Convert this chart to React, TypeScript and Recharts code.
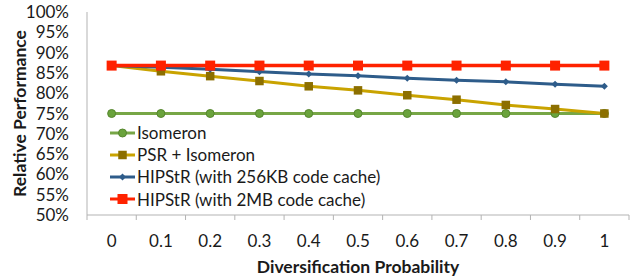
import React from 'react'
import { LineChart, Line, XAxis, YAxis, Legend, Label } from 'recharts'

// diversification probability (x categories)
const probs = [0, 0.1, 0.2, 0.3, 0.4, 0.5, 0.6, 0.7, 0.8, 0.9, 1]
// relative performance, in %
const isomeron = [75, 75, 75, 75, 75, 75, 75, 75, 75, 75, 75]
const psrIsomeron = [86.8, 85.4, 84.2, 83.0, 81.7, 80.7, 79.5, 78.4, 77.1, 76.1, 75.0]
const hip256 = [86.8, 86.4, 85.9, 85.3, 84.7, 84.3, 83.7, 83.2, 82.8, 82.2, 81.7]
const hip2mb = [86.8, 86.8, 86.8, 86.8, 86.8, 86.8, 86.8, 86.8, 86.8, 86.8, 86.8]
const yTicks = [50, 55, 60, 65, 70, 75, 80, 85, 90, 95, 100]

const data = probs.map((p, i) => ({
  p,
  iso: isomeron[i],
  psr: psrIsomeron[i],
  h256: hip256[i],
  h2mb: hip2mb[i],
}))

const W = 640
const H = 279
const Y_W = 87
const M_R = 11
const half = (W - Y_W - M_R) / probs.length / 2
const gray = '#b3b3b3'
const ink = '#1a1a1a'
const font = 'Lato, "Open Sans", sans-serif'

const circleDot = (r: number, fill: string, stroke: string) => (p: any) =>
  <circle key={p.index} cx={p.cx} cy={p.cy} r={r} fill={fill} stroke={stroke} strokeWidth={1} />
const squareDot = (s: number, fill: string) => (p: any) =>
  <rect key={p.index} x={p.cx - s / 2} y={p.cy - s / 2} width={s} height={s} fill={fill} />
const diamondDot = (s: number, fill: string) => (p: any) =>
  <path key={p.index} d={`M${p.cx},${p.cy - s / 2}L${p.cx + s / 2},${p.cy}L${p.cx},${p.cy + s / 2}L${p.cx - s / 2},${p.cy}Z`} fill={fill} />

const series = [
  { key: 'iso', name: 'Isomeron', color: '#77a646', width: 3, dot: circleDot(4, '#6aa33c', '#55862d') },
  { key: 'psr', name: 'PSR + Isomeron', color: '#c9a300', width: 3, dot: squareDot(8.5, '#8c6f00') },
  { key: 'h256', name: 'HIPStR (with 256KB code cache)', color: '#2e5c8a', width: 3, dot: diamondDot(7, '#2e5c8a') },
  { key: 'h2mb', name: 'HIPStR (with 2MB code cache)', color: '#ff2200', width: 3.5, dot: squareDot(10, '#ff2200') },
]

function XTick(props: any) {
  const { x, y, payload } = props
  const last = payload.value === probs[probs.length - 1]
  return (
    <g>
      <line x1={x - half} x2={x - half} y1={y} y2={y + 5} stroke={gray} />
      {last && <line x1={x + half} x2={x + half} y1={y} y2={y + 5} stroke={gray} />}
      <text x={x} y={y + 25} textAnchor="middle" dominantBaseline="central" fontSize={17} fill={ink} fontFamily={font}>
        {String(payload.value)}
      </text>
    </g>
  )
}

function LegendBox() {
  return (
    <div style={{ fontFamily: font, fontSize: 17, color: ink }}>
      {series.map(s => (
        <div key={s.key} style={{ display: 'flex', alignItems: 'center', height: 22.2, whiteSpace: 'nowrap' }}>
          <svg width={25} height={14}>
            <line x1={0} x2={25} y1={7} y2={7} stroke={s.color} strokeWidth={3} />
            {s.dot({ cx: 12.5, cy: 7, index: 0 })}
          </svg>
          <span style={{ marginLeft: 2 }}>{s.name}</span>
        </div>
      ))}
    </div>
  )
}

export default function App() {
  return (
    <div style={{ position: 'absolute', left: 0, top: 0, width: W, height: H, background: '#fff', fontFamily: font }}>
      <LineChart width={W} height={H} data={data} margin={{ top: 12, right: M_R, left: 0, bottom: 0 }}>
        <XAxis
          dataKey="p"
          type="number"
          domain={[-0.05, 1.05]}
          ticks={probs}
          interval={0}
          height={64}
          tickLine={false}
          tickSize={0}
          tickMargin={0}
          stroke={gray}
          tick={<XTick />}
        >
          <Label
            content={(p: any) => (
              <text x={p.viewBox.x + p.viewBox.width / 2} y={273} textAnchor="middle" fontWeight="bold" fontSize={17.5} fill={ink} fontFamily={font}>
                Diversification Probability
              </text>
            )}
          />
        </XAxis>
        <YAxis
          type="number"
          domain={[50, 100]}
          ticks={yTicks}
          interval={0}
          width={Y_W}
          tickLine={false}
          tickSize={0}
          tickMargin={18}
          stroke={gray}
          tick={{ fontSize: 17, fill: ink, fontFamily: font }}
          tickFormatter={(v: number) => `${v}%`}
        >
          <Label
            content={(p: any) => {
              const cy = p.viewBox.y + p.viewBox.height / 2
              return (
                <text x={19} y={cy} transform={`rotate(-90 19 ${cy})`} textAnchor="middle" dominantBaseline="central" fontWeight="bold" fontSize={17.5} fill={ink} fontFamily={font}>
                  Relative Performance
                </text>
              )
            }}
          />
        </YAxis>
        <Legend
          layout="vertical"
          align="center"
          verticalAlign="middle"
          wrapperStyle={{ left: 110, top: 121.5, width: 'auto' }}
          content={() => <LegendBox />}
        />
        {series.map(s => (
          <Line
            key={s.key}
            dataKey={s.key}
            name={s.name}
            stroke={s.color}
            strokeWidth={s.width}
            dot={s.dot}
            activeDot={false}
            isAnimationActive={false}
          />
        ))}
      </LineChart>
    </div>
  )
}
